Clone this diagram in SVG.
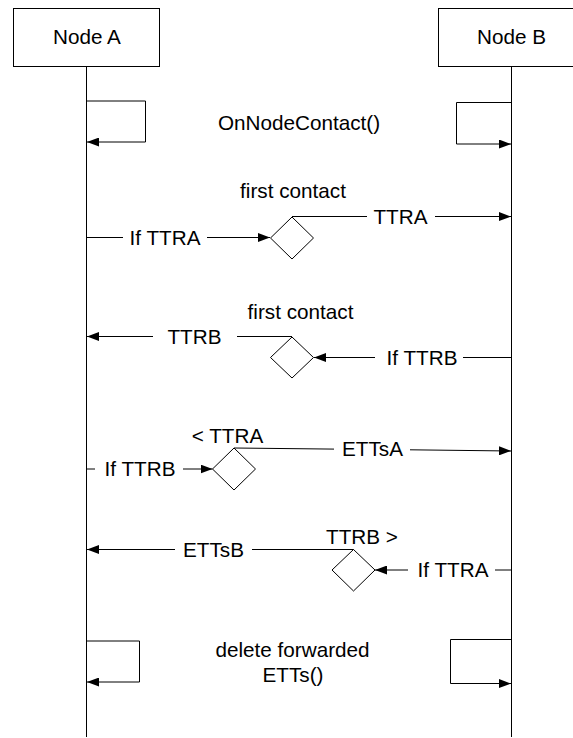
<svg xmlns="http://www.w3.org/2000/svg" width="573" height="738" viewBox="0 0 573 738">
<style>
  text { font-family: "Liberation Sans", Arial, Helvetica, sans-serif; font-size: 20.7px; fill: #000; text-anchor: middle; }
  .box { fill: #fff; stroke: #000; stroke-width: 1; }
  .ln { fill: none; stroke: #000; stroke-width: 1; }
  .arr { fill: none; stroke: #000; stroke-width: 1; marker-end: url(#ah); }
  .dia { fill: #fff; stroke: #000; stroke-width: 1; }
</style>
<defs>
  <marker id="ah" markerUnits="userSpaceOnUse" markerWidth="12" markerHeight="9" refX="12" refY="4.5" orient="auto">
    <path d="M0,0 L12,4.5 L0,9 Z" fill="#000"/>
  </marker>
</defs>
<rect width="573" height="738" fill="#fff"/>

<g id="nodeA">
  <rect class="box" x="13.5" y="8.5" width="146" height="58"/>
  <text x="87" y="44">Node A</text>
  <line class="ln" x1="86.5" y1="66.5" x2="86.5" y2="737"/>
</g>
<g id="nodeB">
  <rect class="box" x="438.5" y="8.5" width="146" height="58"/>
  <text x="511.5" y="44">Node B</text>
  <line class="ln" x1="511.5" y1="66.5" x2="511.5" y2="737"/>
</g>

<g id="decision1"><polygon class="dia" points="292,217 313.5,238 292,259 270.5,238"/></g>
<g id="decision2"><polygon class="dia" points="292,337 313.5,357.5 292,378 270.5,357.5"/></g>
<g id="decision3"><polygon class="dia" points="234,448 255.5,469 234,490 212.5,469"/></g>
<g id="decision4"><polygon class="dia" points="353.5,549.5 375,570 353.5,591 332,570"/></g>

<g id="connectors">
  <!-- OnNodeContact self loops -->
  <path class="arr" d="M86.5,101 H145.5 V142 H87"/>
  <path class="arr" d="M511.5,102.5 H456.5 V144 H511"/>
  <text x="299" y="130">OnNodeContact()</text>

  <!-- Step 1 -->
  <text x="293" y="198">first contact</text>
  <line class="ln" x1="86.5" y1="237.5" x2="123" y2="237.5"/>
  <text x="165" y="244.5">If TTRA</text>
  <line class="arr" x1="207" y1="237.5" x2="270" y2="237.5"/>
  <line class="ln" x1="292" y1="216.5" x2="367" y2="216.5"/>
  <text x="400.5" y="223.5">TTRA</text>
  <line class="arr" x1="435" y1="216.5" x2="511" y2="216.5"/>

  <!-- Step 2 -->
  <text x="300.5" y="319">first contact</text>
  <line class="ln" x1="292" y1="336.5" x2="237" y2="336.5"/>
  <text x="194.5" y="343.5">TTRB</text>
  <line class="arr" x1="153" y1="336.5" x2="87" y2="336.5"/>
  <line class="ln" x1="511.5" y1="357.5" x2="463" y2="357.5"/>
  <text x="422" y="364.5">If TTRB</text>
  <line class="arr" x1="375" y1="357.5" x2="314" y2="357.5"/>

  <!-- Step 3 -->
  <text x="227.5" y="443">&lt; TTRA</text>
  <line class="ln" x1="86.5" y1="469" x2="95" y2="469"/>
  <text x="140" y="476">If TTRB</text>
  <line class="arr" x1="183" y1="469" x2="212.5" y2="469"/>
  <line class="ln" x1="234" y1="448" x2="334" y2="449.1"/>
  <text x="372.5" y="456">ETTsA</text>
  <line class="arr" x1="410" y1="449.8" x2="511" y2="451"/>

  <!-- Step 4 -->
  <text x="362" y="544">TTRB &gt;</text>
  <line class="ln" x1="353.5" y1="549.5" x2="252" y2="549.5"/>
  <text x="213.5" y="556.5">ETTsB</text>
  <line class="arr" x1="175" y1="549.5" x2="87" y2="549.5"/>
  <line class="ln" x1="511.5" y1="570" x2="495" y2="570"/>
  <text x="453" y="577">If TTRA</text>
  <line class="arr" x1="408" y1="570" x2="375" y2="570"/>

  <!-- delete forwarded ETTs self loops -->
  <path class="arr" d="M86.5,641 H139.5 V682 H87"/>
  <path class="arr" d="M511.5,639.5 H450.5 V683.5 H511"/>
  <text x="292.5" y="657">delete forwarded</text>
  <text x="293" y="682">ETTs()</text>
</g>
</svg>
